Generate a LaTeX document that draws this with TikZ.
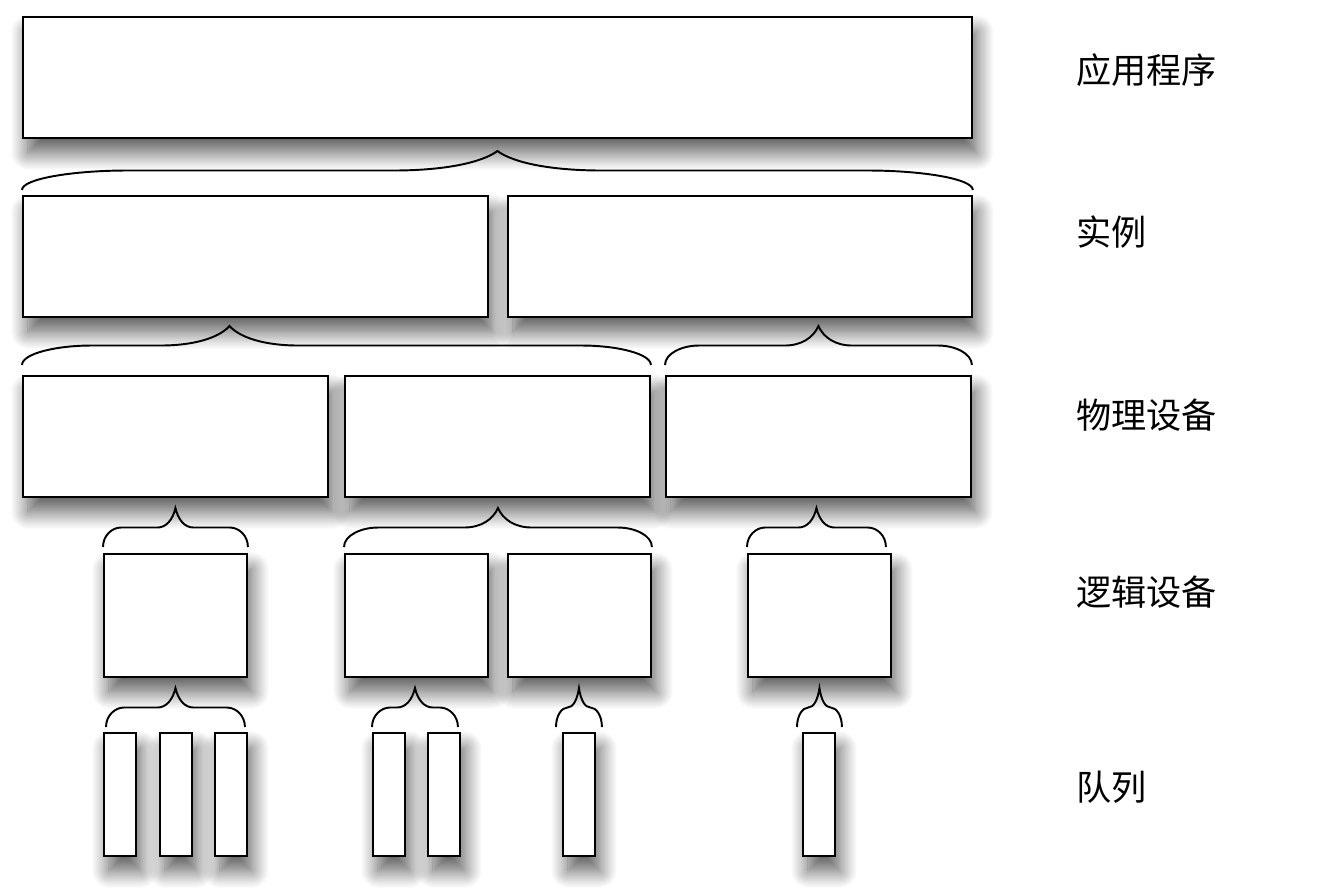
\documentclass[tikz,border=0pt]{standalone}
\usepackage{fontspec}
\newfontfamily\cjk{Noto Sans CJK SC}
\usetikzlibrary{positioning, calc, shadows.blur}

\begin{document}
\begin{tikzpicture}[
    x=0.02cm, y=-0.02cm,
    % Styles
    box/.style={ % One box of a layer
        rectangle,
        anchor=north west,
        draw,
        line width=1.1pt,
        fill=white,
        inner sep=0pt,
        minimum height=2.42cm,
        blur shadow={shadow xshift=0.1cm, shadow yshift=-0.3cm,
            shadow blur radius=0.34cm, shadow blur steps=16, shadow opacity=65}
    },
    queue/.style={ % Thin queue box
        box,
        minimum width=0.64cm,
        minimum height=2.46cm
    },
    layer/.style={ % Layer names on the right
        anchor=west,
        font=\cjk\fontsize{20}{24}\selectfont
    },
    brace tip/.store in=\tipat,
    brace tip=0.5,
    curly/.style={ % Grouping brace, tip pointing up
        line width=1.1pt,
        to path={let \p1=(\tikztostart), \p2=(\tikztotarget),
            \n1={max(0.11*(\x2-\x1),min(0.25*(\x2-\x1),0.36cm))},
            \n2={\x1+(\x2-\x1)*\tipat} in
            .. controls (\x1,\y1+0.23cm) and (\x1+0.5*\n1,\y1+0.39cm) .. (\x1+\n1,\y1+0.39cm)
            -- (\n2-\n1,\y1+0.39cm)
            .. controls (\n2-0.5*\n1,\y1+0.39cm) and (\n2-0.15*\n1,\y1+0.55cm) .. (\n2,\y1+0.78cm)
            .. controls (\n2+0.15*\n1,\y1+0.55cm) and (\n2+0.5*\n1,\y1+0.39cm) .. (\n2+\n1,\y1+0.39cm)
            -- (\x2-\n1,\y1+0.39cm)
            .. controls (\x2-0.5*\n1,\y1+0.39cm) and (\x2,\y1+0.23cm) .. (\tikztotarget)}
    }
]
    \useasboundingbox (0,0) rectangle (1334,894);

    % Application
    \node at (22,16) [box, minimum width=18.98cm] (app) {};

    % Instances
    \node at (22,195) [box, minimum width=9.3cm] (inst_1) {};
    \node at (507,195) [box, minimum width=9.28cm] (inst_2) {};

    % Physical devices
    \foreach \x [count=\i] in {22,344,665}
        \node at (\x,375) [box, minimum width=6.1cm] (phys_\i) {};

    % Logical devices
    \foreach \x [count=\i] in {103,344,507,747}
        \node at (\x,553) [box, minimum width=2.86cm, minimum height=2.46cm] (log_\i) {};

    % Queues
    \foreach \x [count=\i] in {103,159,214,372,427,562,802}
        \node at (\x,732) [queue] (q_\i) {};

    % Application -> Instances
    \draw [curly] ([yshift=0.1cm]inst_1.north west) to ([yshift=0.1cm]inst_2.north east);

    % Instances -> Physical devices
    \draw [curly, brace tip=0.33] ([yshift=0.2cm]phys_1.north west) to ([yshift=0.2cm]phys_2.north east);
    \draw [curly] ([yshift=0.2cm]phys_3.north west) to ([yshift=0.2cm]phys_3.north east);

    % Physical devices -> Logical devices
    \draw [curly] ([yshift=0.12cm]log_1.north west) to ([yshift=0.12cm]log_1.north east);
    \draw [curly] ([yshift=0.12cm]log_2.north west) to ([yshift=0.12cm]log_3.north east);
    \draw [curly] ([yshift=0.12cm]log_4.north west) to ([xshift=-0.12cm, yshift=0.12cm]log_4.north east);

    % Logical devices -> Queues
    \draw [curly] ([xshift=0.06cm, yshift=0.1cm]q_1.north west) to ([xshift=-0.06cm, yshift=0.1cm]q_3.north east);
    \draw [curly] ([yshift=0.1cm]q_4.north west) to ([xshift=-0.06cm, yshift=0.1cm]q_5.north east);
    \draw [curly] ([xshift=-0.12cm, yshift=0.1cm]q_6.north west) to ([xshift=0.12cm, yshift=0.1cm]q_6.north east);
    \draw [curly] ([xshift=-0.1cm, yshift=0.1cm]q_7.north west) to ([xshift=0.12cm, yshift=0.1cm]q_7.north east);

    % Layer labels
    \node at (1070,70) [layer] (app_label) {应用程序};
    \node at (1070,232) [layer] (inst_label) {实例};
    \node at (1070,415) [layer] (phys_label) {物理设备};
    \node at (1070,592) [layer] (log_label) {逻辑设备};
    \node at (1070,787) [layer] (q_label) {队列};
\end{tikzpicture}
\end{document}
